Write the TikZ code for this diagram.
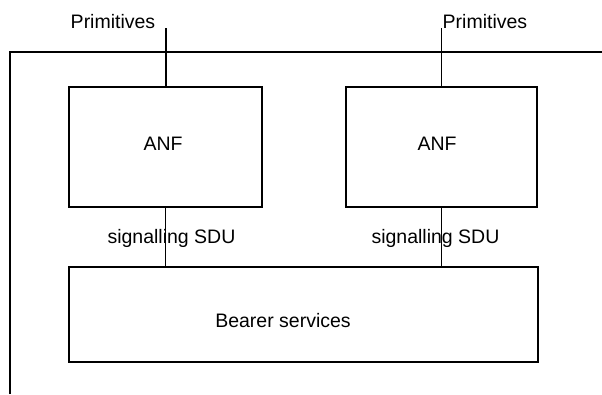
\documentclass[tikz,border=0pt]{standalone}
\usepackage{fontspec}
\setmainfont{Liberation Sans}
\begin{document}
\begin{tikzpicture}[x=1pt,y=-1pt,
  every node/.style={font=\fontsize{19.5}{23}\selectfont},
  blockbox/.style={draw,line width=1.5pt,inner sep=0pt},
  conn/.style={line width=1.5pt},
  lbl/.style={inner sep=0pt,anchor=base}]
  \useasboundingbox (0,0) rectangle (602,394);
  % outer frame (left and top edges only)
  \draw[conn] (10,394) -- (10,52) -- (602,52);
  % functional blocks
  \node[blockbox,minimum width=193pt,minimum height=120pt] (anfL) at (165.5,147) {};
  \node[blockbox,minimum width=191pt,minimum height=120pt] (anfR) at (441.5,147) {};
  \node[blockbox,minimum width=469pt,minimum height=95pt] (bearer) at (303.5,314.5) {};
  % block texts
  \node[lbl] (tL) at (163,150) {ANF};
  \node[lbl] (tR) at (437,150) {ANF};
  \node[lbl] (tB) at (283,327) {Bearer services};
  % primitives at the upper boundary
  \coordinate (pL) at (166,28);
  \coordinate (pR) at (441.5,28);
  \node[lbl] (primL) at (113,28) {Primitives};
  \node[lbl,anchor=base west] (primR) at (442.5,28) {Primitives};
  \draw[conn] (pL) -- (pL |- anfL.north);
  \draw[conn] (pR) -- (pR |- anfR.north);
  % signalling SDU links to the bearer services
  \draw[conn] (anfL.south) -- (anfL.south |- bearer.north);
  \draw[conn] (anfR.south) -- (anfR.south |- bearer.north);
  \node[lbl] (sL) at (171.5,243) {signalling SDU};
  \node[lbl] (sR) at (435.5,243) {signalling SDU};
\end{tikzpicture}
\end{document}
